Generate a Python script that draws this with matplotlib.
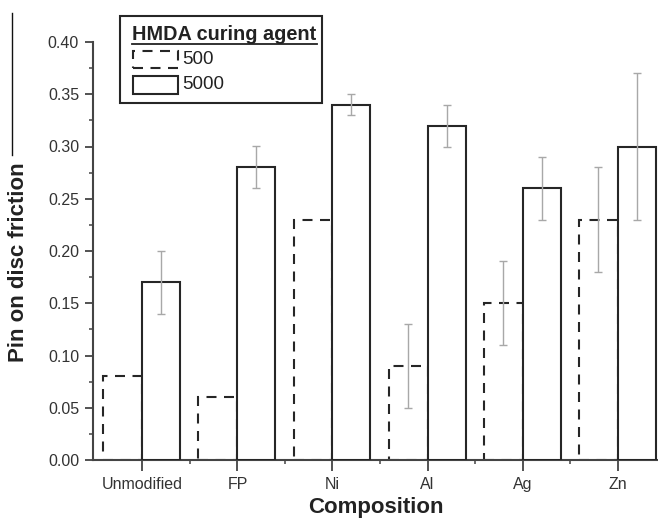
import matplotlib
matplotlib.use("Agg")
import matplotlib.pyplot as plt
from matplotlib.patches import Rectangle
from matplotlib.lines import Line2D
import numpy as np

plt.rcParams['font.family'] = ['Liberation Sans', 'DejaVu Sans']

categories = ["Unmodified", "FP", "Ni", "Al", "Ag", "Zn"]
vals_500 = [0.08, 0.06, 0.23, 0.09, 0.15, 0.23]
err_500 = [np.nan, np.nan, np.nan, 0.04, 0.04, 0.05]
vals_5000 = [0.17, 0.28, 0.34, 0.32, 0.26, 0.30]
err_5000 = [0.03, 0.02, 0.01, 0.02, 0.03, 0.07]
yticks = [0.00, 0.05, 0.10, 0.15, 0.20, 0.25, 0.30, 0.35, 0.40]

W, H = 658, 519
fig = plt.figure(figsize=(W / 100, H / 100), dpi=100)
ax_left, ax_right_px, ax_bot, ax_top = 93, 667, 460, 42
ax = fig.add_axes([ax_left / W, 1 - ax_bot / H, (ax_right_px - ax_left) / W, (ax_bot - ax_top) / H])

x = np.arange(len(categories))
dark = "#262626"
lw = 1.5
dash = (0, (4.8, 3.6))

ax.bar(x - 0.205, vals_500, width=0.41, facecolor="none", edgecolor=dark,
       linewidth=lw, linestyle=dash, zorder=2)
ax.bar(x + 0.2, vals_5000, width=0.40, facecolor="white", edgecolor=dark,
       linewidth=lw, zorder=3)
ax.errorbar(x - 0.205, vals_500, yerr=err_500, fmt="none", ecolor="#a8a8a8",
            elinewidth=1.0, capsize=3, capthick=1.0, zorder=5)
ax.errorbar(x + 0.2, vals_5000, yerr=err_5000, fmt="none", ecolor="#a8a8a8",
            elinewidth=1.0, capsize=3, capthick=1.0, zorder=5)

ax.set_xlim(-0.52, 5.52)
ax.set_ylim(0, 0.40)
ax.set_xticks(x)
ax.set_xticklabels(categories)
ax.set_xticks(x[:-1] + 0.5, minor=True)
ax.set_yticks(yticks)
ax.set_yticklabels([f"{v:.2f}" for v in yticks])
ax.set_yticks(np.arange(0.025, 0.40, 0.05), minor=True)

for s in ["top", "right"]:
    ax.spines[s].set_visible(False)
for s in ["left", "bottom"]:
    ax.spines[s].set_linewidth(1.5)
    ax.spines[s].set_color("#444444")
ax.tick_params(axis="x", which="major", length=8, width=1.3, color="#444444",
               labelsize=11.5, labelcolor="#333333", pad=4, direction="out")
ax.tick_params(axis="x", which="minor", length=3, width=1.1, color="#444444", direction="out")
ax.tick_params(axis="y", which="major", length=6, width=1.3, color="#444444",
               labelsize=11.5, labelcolor="#333333", pad=4, direction="out")
ax.tick_params(axis="y", which="minor", length=3, width=1.1, color="#444444", direction="out")

fig.text(376 / W, 1 - 508 / H, "Composition", ha="center", va="center",
         fontsize=16, fontweight="bold", color="#222222")
fig.text(19 / W, 1 - 262 / H, "Pin on disc friction", ha="center", va="center",
         rotation=90, fontsize=16, fontweight="bold", color="#222222")

# stray vertical line at top-left
fig.add_artist(Line2D([12 / W, 12 / W], [1 - 13 / H, 1 - 155 / H], color="#111111", lw=1.0))

# Legend drawn manually in figure pixel coordinates
def fx(px):
    return px / W

def fy(py):
    return 1 - py / H

fig.add_artist(Rectangle((fx(120), fy(103)), fx(322) - fx(120), fy(16) - fy(103),
                         transform=fig.transFigure, facecolor="white", edgecolor=dark,
                         linewidth=1.5, zorder=10))
fig.text(fx(132), fy(34), "HMDA curing agent", ha="left", va="center",
         fontsize=14.3, fontweight="bold", color="#222222", zorder=11)
fig.add_artist(Line2D([fx(132), fx(317)], [fy(43.5), fy(43.5)], color="#222222",
                      lw=1.3, zorder=11))
fig.add_artist(Rectangle((fx(133), fy(68)), fx(178) - fx(133), fy(51) - fy(68),
                         transform=fig.transFigure, facecolor="none", edgecolor=dark,
                         linewidth=lw, linestyle=dash, zorder=11))
fig.text(fx(182), fy(60), "500", ha="left", va="center", fontsize=13.5,
         color="#222222", zorder=11)
fig.add_artist(Rectangle((fx(133), fy(94)), fx(178) - fx(133), fy(76) - fy(94),
                         transform=fig.transFigure, facecolor="white", edgecolor=dark,
                         linewidth=lw, zorder=11))
fig.text(fx(182), fy(85), "5000", ha="left", va="center", fontsize=13.5,
         color="#222222", zorder=11)

fig.savefig("out.png", dpi=100)
